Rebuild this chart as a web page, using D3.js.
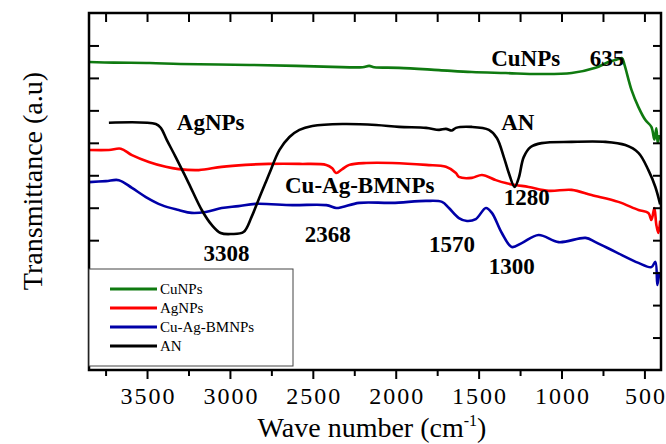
<!DOCTYPE html>
<html>
<head>
<meta charset="utf-8">
<script src="https://cdn.jsdelivr.net/npm/d3@7/dist/d3.min.js"></script>
<style>
  html, body { margin: 0; padding: 0; background: #fff; }
  svg { display: block; }
  text { font-family: "Liberation Serif", "Times New Roman", serif; }
</style>
</head>
<body>
<svg id="chart" width="666" height="444"></svg>
<script>
// FTIR spectra: wavenumber (cm^-1) vs transmittance (arbitrary units, offset traces)
const wnCu = [3850, 3700, 3483, 3300, 2882, 2600, 2383, 2200, 2160, 2130, 1980, 1739, 1541, 1336, 1138, 939, 795, 717, 657, 635, 620, 578, 536, 494, 458, 440, 428, 420, 410];
const tCu  = [9.49, 9.47, 9.46, 9.43, 9.40, 9.37, 9.34, 9.33, 9.37, 9.33, 9.31, 9.24, 9.18, 9.15, 9.12, 9.15, 9.31, 9.49, 9.58, 9.61, 9.40, 8.63, 8.10, 7.70, 7.49, 7.10, 7.45, 7.00, 7.24];

const wnAg = [3850, 3730, 3658, 3591, 3489, 3387, 3309, 3188, 3050, 2906, 2767, 2581, 2419, 2383, 2360, 2322, 2280, 2178, 2022, 1817, 1697, 1637, 1619, 1541, 1480, 1396, 1336, 1276, 1198, 1078, 939, 819, 657, 536, 476, 458, 440, 428, 416, 405];
const tAg  = [6.78, 6.78, 6.82, 6.62, 6.41, 6.26, 6.19, 6.16, 6.26, 6.32, 6.35, 6.35, 6.32, 6.22, 6.07, 6.19, 6.32, 6.38, 6.38, 6.32, 6.26, 6.07, 5.95, 5.92, 6.01, 5.85, 5.76, 5.70, 5.64, 5.52, 5.55, 5.39, 5.18, 4.93, 4.84, 4.62, 4.99, 4.47, 4.22, 4.60];

const wnBm = [3850, 3748, 3670, 3591, 3507, 3411, 3309, 3231, 3146, 3050, 2948, 2846, 2623, 2419, 2359, 2322, 2220, 2022, 1817, 1721, 1679, 1619, 1570, 1517, 1456, 1420, 1360, 1300, 1240, 1138, 1017, 855, 795, 675, 536, 458, 434, 422, 410];
const tBm  = [5.79, 5.82, 5.85, 5.61, 5.33, 5.08, 4.93, 4.84, 4.87, 4.99, 5.05, 5.12, 5.08, 5.08, 4.99, 5.02, 5.15, 5.15, 5.21, 5.18, 4.99, 4.68, 4.59, 4.65, 4.99, 4.84, 4.22, 3.79, 3.91, 4.16, 3.94, 4.07, 3.94, 3.64, 3.30, 3.17, 3.33, 2.62, 3.02];

const wnAN = [3730, 3447, 3417, 3381, 3327, 3249, 3170, 3110, 3056, 2990, 2918, 2870, 2828, 2786, 2761, 2701, 2641, 2581, 2503, 2322, 2118, 1980, 1817, 1739, 1697, 1661, 1637, 1541, 1438, 1390, 1348, 1318, 1283, 1258, 1228, 1186, 1120, 939, 735, 615, 536, 476, 434, 405];
const tAN  = [7.62, 7.58, 7.46, 7.09, 6.56, 5.76, 4.93, 4.47, 4.22, 4.19, 4.25, 4.71, 5.24, 5.76, 6.07, 6.78, 7.18, 7.40, 7.52, 7.58, 7.55, 7.49, 7.46, 7.40, 7.43, 7.38, 7.46, 7.49, 7.40, 7.15, 6.56, 6.07, 5.64, 5.92, 6.56, 6.87, 6.99, 7.03, 7.03, 6.93, 6.69, 6.16, 5.64, 5.10];

const seriesNames  = ["CuNPs", "AgNPs", "Cu-Ag-BMNPs", "AN"];
const seriesColors = ["#0f7a10", "#ff0000", "#0000a8", "#000000"];

const xTickValues = [3500, 3000, 2500, 2000, 1500, 1000, 500];
const xMinorValues = [3750, 3250, 2750, 2250, 1750, 1250, 750];

// Peak annotations: [wavenumber, transmittance, text]
const peakLabels = [
  [1216, 9.37, "CuNPs"],
  [726, 9.37, "635"],
  [3116, 7.40, "AgNPs"],
  [1264, 7.40, "AN"],
  [1210, 5.08, "1280"],
  [2217, 5.45, "Cu-Ag-BMNPs"],
  [3020, 3.36, "3308"],
  [2410, 3.94, "2368"],
  [1661, 3.64, "1570"],
  [1300, 2.96, "1300"]
];

const svg = d3.select("#chart");
const L = 89, R = 661, T = 13, B = 370;

const x = d3.scaleLinear().domain([3850, 400]).range([L, R]);
const y = d3.scaleLinear().domain([0, 11]).range([B, T]);

svg.append("defs").append("clipPath").attr("id", "plotClip")
  .append("rect").attr("x", L).attr("y", T).attr("width", R - L).attr("height", B - T);

const line = d3.line()
  .x(d => x(d[0])).y(d => y(d[1]))
  .curve(d3.curveCatmullRom.alpha(0.5));

const traces = [
  d3.zip(wnCu, tCu),
  d3.zip(wnAg, tAg),
  d3.zip(wnBm, tBm),
  d3.zip(wnAN, tAN)
];

const plot = svg.append("g").attr("clip-path", "url(#plotClip)");
traces.forEach((pts, i) => {
  plot.append("path")
    .attr("d", line(pts))
    .attr("fill", "none")
    .attr("stroke", seriesColors[i])
    .attr("stroke-width", 2.6)
    .attr("stroke-linejoin", "round");
});

// Axes
const tickFont = g => g.selectAll("text")
  .style("font-family", '"Liberation Serif", "Times New Roman", serif')
  .style("font-size", "24px")
  .style("letter-spacing", "2px")
  .attr("fill", "#000");

const xBottom = svg.append("g").attr("transform", `translate(0,${B})`)
  .call(d3.axisBottom(x).tickValues(xTickValues).tickSize(9).tickPadding(8).tickFormat(d3.format("d")));
xBottom.call(tickFont);
xBottom.selectAll("text").attr("dx", "1px");
svg.append("g").attr("transform", `translate(0,${B})`)
  .call(d3.axisBottom(x).tickValues(xMinorValues).tickSize(6).tickFormat(""));

svg.append("g").attr("transform", `translate(0,${T})`)
  .call(d3.axisBottom(x).tickValues(xTickValues.concat(xMinorValues)).tickSize(9).tickFormat(""));

const yTicks = d3.range(1, 11);
svg.append("g").attr("transform", `translate(${L},0)`)
  .call(d3.axisRight(y).tickValues(yTicks).tickSize(10).tickFormat(""));
svg.append("g").attr("transform", `translate(${R},0)`)
  .call(d3.axisLeft(y).tickValues(yTicks).tickSize(8).tickFormat(""));

svg.selectAll(".domain").remove();
svg.selectAll(".tick line").attr("stroke", "#000").attr("stroke-width", 2);

// Frame
svg.append("rect")
  .attr("x", L).attr("y", T).attr("width", R - L).attr("height", B - T)
  .attr("fill", "none").attr("stroke", "#000").attr("stroke-width", 2.5);

// Peak annotations
svg.append("g").selectAll("text").data(peakLabels).join("text")
  .attr("x", d => x(d[0])).attr("y", d => y(d[1]))
  .attr("text-anchor", "middle")
  .style("font-size", "23px").style("font-weight", "bold")
  .attr("fill", "#000")
  .text(d => d[2]);

// Axis titles
const xt = svg.append("text")
  .attr("x", 372).attr("y", 437)
  .attr("text-anchor", "middle")
  .style("font-size", "28px").attr("fill", "#000");
xt.append("tspan").text("Wave number (cm");
xt.append("tspan").attr("dy", -11).style("font-size", "16px").text("-1");
xt.append("tspan").attr("dy", 11).text(")");

svg.append("text")
  .attr("transform", "translate(42,181) rotate(-90)")
  .attr("text-anchor", "middle")
  .style("font-size", "28px").attr("fill", "#000")
  .text("Transmittance (a.u)");

// Legend
const lg = svg.append("g");
lg.append("rect").attr("x", L).attr("y", 269).attr("width", 204).attr("height", 97)
  .attr("fill", "#fff").attr("stroke", "#444").attr("stroke-width", 1);
seriesNames.forEach((name, i) => {
  const ly = 289 + i * 19;
  lg.append("line").attr("x1", 110).attr("x2", 157).attr("y1", ly).attr("y2", ly)
    .attr("stroke", seriesColors[i]).attr("stroke-width", 3);
  lg.append("text").attr("x", 160).attr("y", ly + 5)
    .style("font-size", "15px").attr("fill", "#000").text(name);
});
</script>
</body>
</html>
